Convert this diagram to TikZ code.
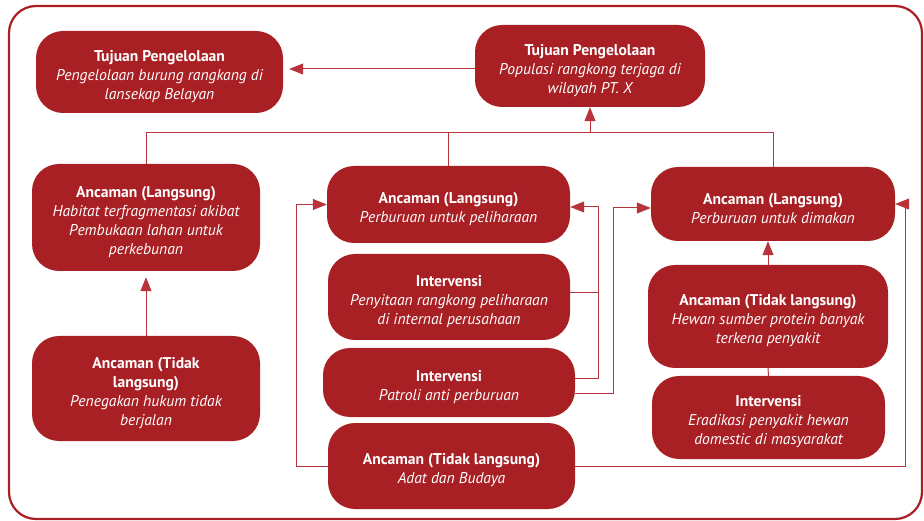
\documentclass[tikz,border=0pt]{standalone}
\usepackage{fontspec}
\setmainfont{PT Sans}
\usetikzlibrary{arrows.meta}
\definecolor{boxred}{HTML}{A81F24}
\definecolor{linered}{HTML}{B8343A}
\newcommand{\hdy}[1]{{\fontsize{15.6}{19}\selectfont\bfseries #1}}
\newcommand{\hdx}[1]{\rule{0pt}{20pt}\hdy{#1}}
\newcommand{\itx}[1]{{\fontsize{15.6}{19}\selectfont\itshape #1}}
\tikzset{
  box/.style={fill=boxred, rounded corners=27pt, text=white, align=center,
    inner sep=0pt, font=\fontsize{15.6}{19}\selectfont},
  conn/.style={draw=linered, line width=1pt},
  arr/.style={conn, -{Triangle[length=14pt,width=11pt]}},
  frame/.style={draw=boxred, line width=2.2pt, rounded corners=27pt}
}
\begin{document}
\begin{tikzpicture}[x=1pt,y=-1pt]
\useasboundingbox (0,0) rectangle (924,521);
\draw[frame] (9,6) rectangle (922,519);

\node[box, minimum width=247pt, minimum height=82pt] (TP1) at (159.5,72)
  {\hdx{Tujuan Pengelolaan}\\\itx{Pengelolaan burung rangkang di}\\\itx{lansekap Belayan}};
\node[box, minimum width=230pt, minimum height=82pt] (TP2) at (590,66)
  {\hdx{Tujuan Pengelolaan}\\\itx{Populasi rangkong terjaga di}\\\itx{wilayah PT. X}};

\node[box, minimum width=228pt, minimum height=107pt] (AL1) at (146,217.5)
  {\hdx{Ancaman (Langsung)}\\\itx{Habitat terfragmentasi akibat}\\\itx{Pembukaan lahan untuk}\\\itx{perkebunan}};
\node[box, minimum width=228pt, minimum height=105pt] (ATL1) at (146,388.5)
  {\hdx{Ancaman (Tidak}\\\hdy{langsung)}\\\itx{Penegakan hukum tidak}\\\itx{berjalan}};

\node[box, minimum width=243pt, minimum height=77pt] (AL2) at (448.5,204.5)
  {\hdx{Ancaman (Langsung)}\\\itx{Perburuan untuk peliharaan}};
\node[box, minimum width=242pt, minimum height=86pt] (INT1) at (449,297)
  {\hdx{Intervensi}\\\itx{Penyitaan rangkong peliharaan}\\\itx{di internal perusahaan}};
\node[box, minimum width=252pt, minimum height=69pt] (INT2) at (449,382.5)
  {\hdx{Intervensi}\\\itx{Patroli anti perburuan}};
\node[box, minimum width=247pt, minimum height=86pt] (ATL2) at (451.5,466)
  {\hdx{Ancaman (Tidak langsung)}\\\itx{Adat dan Budaya}};

\node[box, minimum width=244pt, minimum height=74pt] (AL3) at (773,204)
  {\hdx{Ancaman (Langsung)}\\\itx{Perburuan untuk dimakan}};
\node[box, minimum width=240pt, minimum height=103pt] (ATL3) at (768,316.5)
  {\hdx{Ancaman (Tidak langsung)}\\\itx{Hewan sumber protein banyak}\\\itx{terkena penyakit}};
\node[box, minimum width=233pt, minimum height=83pt] (INT3) at (768.5,417.5)
  {\hdx{Intervensi}\\\itx{Eradikasi penyakit hewan}\\\itx{domestic di masyarakat}};

% top arrow
\draw[arr, shorten >=6pt] ([yshift=-3pt]TP2.west) -- ([yshift=-3pt]TP2.west -| TP1.east);
% bus
\coordinate (busY) at (0,133);
\draw[conn] (AL1.north) -- (AL1.north |- busY) -- (AL3.north |- busY) -- (AL3.north);
\draw[conn] (AL2.north) -- (AL2.north |- busY);
\draw[arr] (TP2.south |- busY) -- (TP2.south);
% left column
\draw[arr, shorten >=6pt] (ATL1.north) -- (AL1.south);
% right column
\draw[arr] (ATL3.north) -- (ATL3.north |- AL3.south);
\draw[conn] (INT3.north) -- (ATL3.south);
% adat links
\draw[arr] (ATL2.west) -- ++(-31,0) |- (AL2.west);
\draw[arr] (ATL2.east) -- (905,466) |- (AL3.east);
% intervention links
\draw[conn] ([yshift=4pt]INT1.east) -- ([yshift=4pt]INT1.east -| 598,0);
\draw[arr] ([yshift=4.5pt]INT2.east) -- (598,378) |- ([yshift=-2.5pt]AL2.east);
\draw[arr] ([yshift=-10.5pt]INT2.east) -- (613,393) |- ([yshift=-4pt]AL3.west);
\end{tikzpicture}
\end{document}
